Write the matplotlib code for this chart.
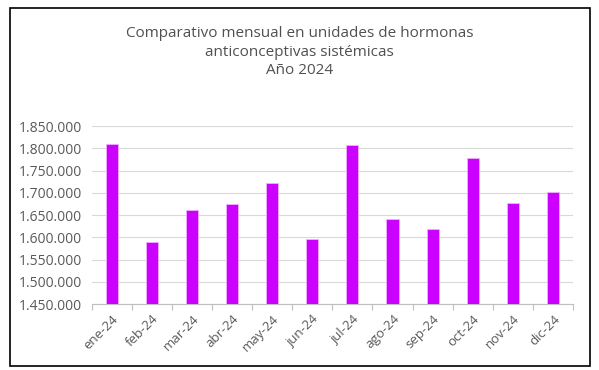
import matplotlib.pyplot as plt
from matplotlib.ticker import FuncFormatter, FixedLocator
from matplotlib.patches import Rectangle

months = ['ene-24', 'feb-24', 'mar-24', 'abr-24', 'may-24', 'jun-24',
          'jul-24', 'ago-24', 'sep-24', 'oct-24', 'nov-24', 'dic-24']
units = [1809000, 1589000, 1661000, 1675000, 1723000, 1595000,
         1807000, 1642000, 1618000, 1779000, 1678000, 1702000]
yticks = [1450000, 1500000, 1550000, 1600000, 1650000, 1700000,
          1750000, 1800000, 1850000]
title = 'Comparativo mensual en unidades de hormonas\nanticonceptivas sistémicas\nAño 2024'

plt.rcParams['font.family'] = ['Open Sans', 'DejaVu Sans']
grey = '#595959'

fig = plt.figure(figsize=(5.99, 3.70), dpi=100)
ax = fig.add_axes([91.7/599, 1 - 304/370, (573 - 91.7)/599, (304 - 126)/370])

x = list(range(len(months)))
ax.bar(x, units, width=0.3, color='#CC00FF', edgecolor='#F0B0FF', linewidth=0.6, zorder=3)

ax.set_xlim(-0.5, len(months) - 0.5)
ax.set_ylim(yticks[0], yticks[-1])
ax.set_yticks(yticks)
ax.yaxis.set_major_formatter(FuncFormatter(lambda v, p: f'{int(v):,}'.replace(',', '.')))
ax.grid(axis='y', color='#D9D9D9', linewidth=0.8, zorder=0)

ax.set_xticks(x)
ax.set_xticklabels(months, rotation=45, ha='right', rotation_mode='anchor', color=grey, fontsize=9.5)
ax.tick_params(axis='x', length=0, pad=6)
ax.xaxis.set_minor_locator(FixedLocator([i - 0.5 for i in range(len(months) + 1)]))
ax.tick_params(axis='x', which='minor', length=4, color='#BFBFBF', width=0.8)
ax.tick_params(axis='y', length=0, labelsize=10, labelcolor=grey, pad=7)

for s in ['top', 'right', 'left']:
    ax.spines[s].set_visible(False)
ax.spines['bottom'].set_color('#BFBFBF')
ax.spines['bottom'].set_linewidth(0.8)

fig.text(0.5, 1 - 52/370, title, ha='center', va='center', fontsize=11,
         color='#505050', linespacing=1.35)

fig.patches.append(Rectangle((10/599, 1 - 366/370), 580/599, 358/370,
                             transform=fig.transFigure, fill=False,
                             edgecolor='black', linewidth=1.2))

fig.savefig('out.png', dpi=100)
